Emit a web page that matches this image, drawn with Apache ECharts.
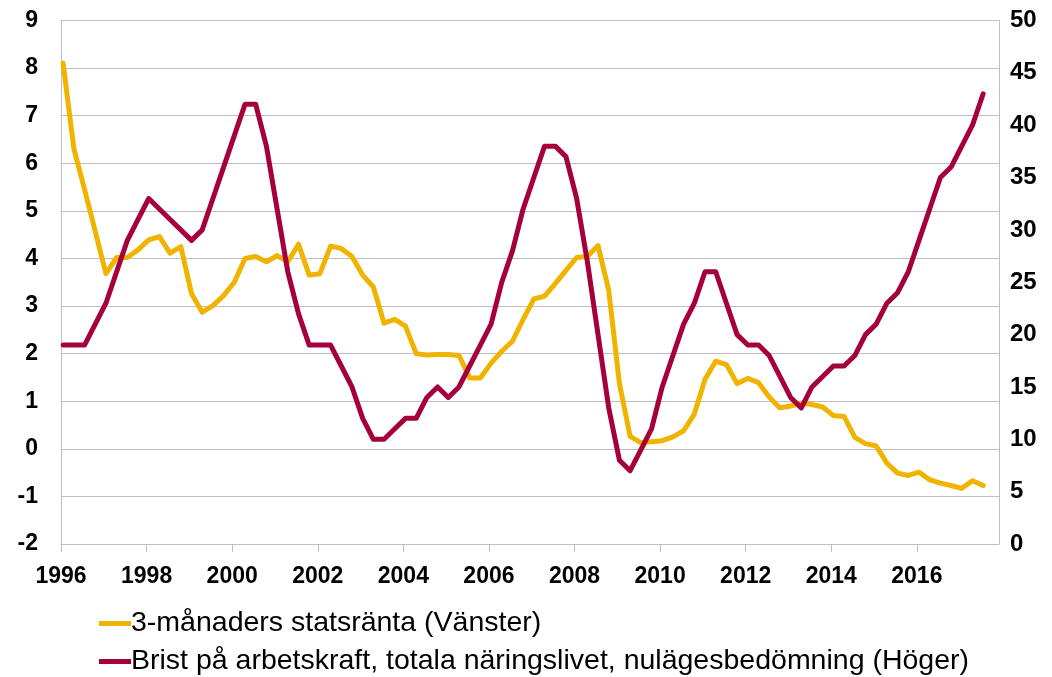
<!DOCTYPE html>
<html>
<head>
<meta charset="utf-8">
<script src="https://cdn.jsdelivr.net/npm/echarts@6/dist/echarts.min.js"></script>
<style>
html,body{margin:0;padding:0;background:#fff;}
#chart{width:1052px;height:677px;}
</style>
</head>
<body>
<div id="chart"></div>
<script>
// Quarterly observations, 1996Q1 .. 2017Q3
const startYear = 1996;
const seriesNames = [
  '3-månaders statsränta (Vänster)',
  'Brist på arbetskraft, totala näringslivet, nulägesbedömning (Höger)'
];
const xTickYears = [1996, 1998, 2000, 2002, 2004, 2006, 2008, 2010, 2012, 2014, 2016];

// 3-month treasury bill rate (left axis, %)
const statsranta = [
  8.10, 6.31, 5.45, 4.57, 3.68, 4.02, 4.02, 4.18, 4.39, 4.46,
  4.11, 4.25, 3.26, 2.87, 3.01, 3.22, 3.50, 4.00, 4.04, 3.93,
  4.06, 3.93, 4.30, 3.65, 3.68, 4.26, 4.21, 4.04, 3.65, 3.40,
  2.64, 2.72, 2.58, 2.00, 1.97, 1.98, 1.98, 1.96, 1.49, 1.49,
  1.80, 2.05, 2.26, 2.72, 3.15, 3.21, 3.47, 3.75, 4.02, 4.04,
  4.27, 3.33, 1.37, 0.26, 0.13, 0.15, 0.17, 0.25, 0.38, 0.73,
  1.46, 1.84, 1.77, 1.37, 1.48, 1.39, 1.09, 0.86, 0.90, 0.96,
  0.93, 0.88, 0.70, 0.68, 0.24, 0.11, 0.06, -0.30, -0.51, -0.56,
  -0.49, -0.65, -0.72, -0.77, -0.83, -0.67, -0.77
];

// Labour shortage, total business sector, current assessment (right axis)
const bristArbetskraft = [
  19, 19, 19, 21, 23, 26, 29, 31, 33, 32,
  31, 30, 29, 30, 33, 36, 39, 42, 42, 38,
  32, 26, 22, 19, 19, 19, 17, 15, 12, 10,
  10, 11, 12, 12, 14, 15, 14, 15, 17, 19,
  21, 25, 28, 32, 35, 38, 38, 37, 33, 27,
  20, 13, 8, 7, 9, 11, 15, 18, 21, 23,
  26, 26, 23, 20, 19, 19, 18, 16, 14, 13,
  15, 16, 17, 17, 18, 20, 21, 23, 24, 26,
  29, 32, 35, 36, 38, 40, 43
];

const quarters = statsranta.map((_, i) => (startYear + Math.floor(i / 4)) + 'Q' + (i % 4 + 1));
function qx(label) {
  const y = parseInt(label.slice(0, 4), 10);
  const q = parseInt(label.slice(5), 10) - 1;
  return y + q * 0.25 + 0.05;
}
const yellowData = quarters.map((q, i) => [qx(q), statsranta[i]]);
const redData = quarters.map((q, i) => [qx(q), bristArbetskraft[i]]);

const YELLOW = '#F0B400';
const RED = '#A6003C';
const GRID = '#BFBFBF';
const labelFont = {fontFamily: 'Liberation Sans, Arial, sans-serif', fontWeight: 'bold', fontSize: 23, color: '#000'};
const legendText = {fontFamily: 'Liberation Sans, Arial, sans-serif', fontSize: 28.5, color: '#000', padding: [0, 0, 0, -5]};

function legendFor(name, top) {
  return {
    orient: 'horizontal', left: 94, top: top,
    itemWidth: 32, itemHeight: 5, icon: 'rect',
    textStyle: legendText, data: [name]
  };
}

const chart = echarts.init(document.getElementById('chart'), null, {renderer: 'canvas'});
chart.setOption({
  animation: false,
  backgroundColor: '#fff',
  grid: {left: 61, right: 53, top: 20.5, bottom: 133, containLabel: false},
  legend: [legendFor(seriesNames[0], 604), legendFor(seriesNames[1], 642)],
  xAxis: {
    type: 'value',
    min: 1996,
    max: 2017.92,
    interval: 2,
    axisLine: {show: true, onZero: false, lineStyle: {color: GRID, width: 1}},
    axisTick: {show: true, length: 8, lineStyle: {color: GRID}},
    splitLine: {show: false},
    axisLabel: Object.assign({margin: 21, showMaxLabel: false,
      formatter: v => (xTickYears.indexOf(Math.round(v)) >= 0 && Math.abs(v - Math.round(v)) < 1e-6) ? String(Math.round(v)) : ''}, labelFont)
  },
  yAxis: [
    {
      type: 'value', min: -2, max: 9, interval: 1, position: 'left',
      axisLine: {show: true, lineStyle: {color: GRID}},
      axisTick: {show: false},
      splitLine: {show: true, lineStyle: {color: GRID, width: 1}},
      axisLabel: Object.assign({margin: 23}, labelFont)
    },
    {
      type: 'value', min: 0, max: 50, interval: 5, position: 'right',
      axisLine: {show: true, lineStyle: {color: GRID}},
      axisTick: {show: false},
      splitLine: {show: false},
      axisLabel: Object.assign({}, labelFont, {margin: 11, fontSize: 24})
    }
  ],
  series: [
    {
      name: seriesNames[0], type: 'line', yAxisIndex: 0, data: yellowData,
      showSymbol: false, symbol: 'none', color: YELLOW,
      lineStyle: {color: YELLOW, width: 5, join: 'round', cap: 'round'},
      z: 2
    },
    {
      name: seriesNames[1], type: 'line', yAxisIndex: 1, data: redData,
      showSymbol: false, symbol: 'none', color: RED,
      lineStyle: {color: RED, width: 5, join: 'round', cap: 'round'},
      z: 3
    }
  ]
});
</script>
</body>
</html>
